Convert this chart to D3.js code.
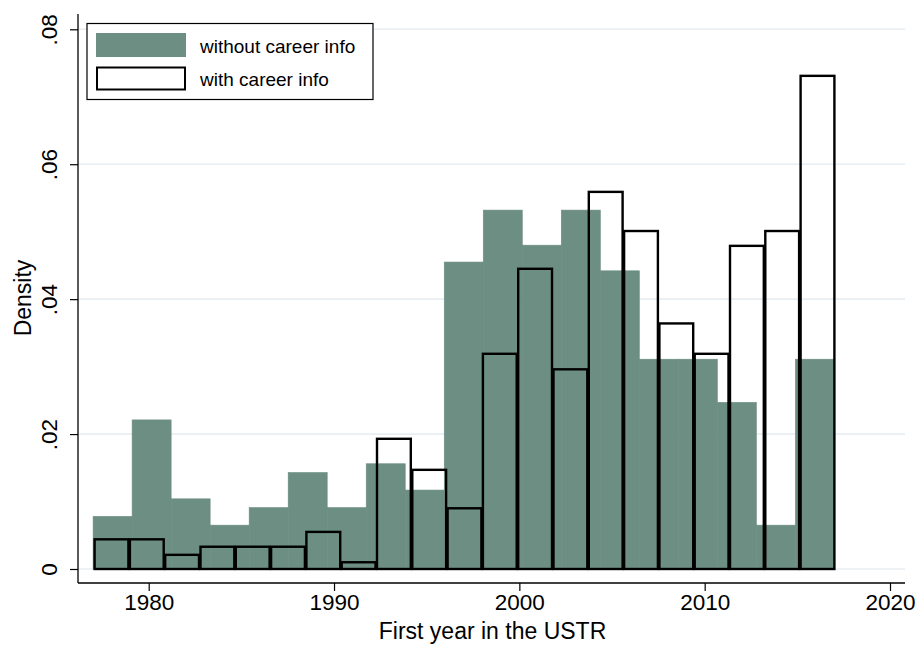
<!DOCTYPE html>
<html>
<head>
<meta charset="utf-8">
<script src="https://cdn.jsdelivr.net/npm/d3@7"></script>
<style>
  html, body { margin: 0; padding: 0; background: #ffffff; }
  svg { display: block; }
  text { font-family: "Liberation Sans", Arial, Helvetica, sans-serif; fill: #000; }
</style>
</head>
<body>
<svg id="chart" width="921" height="647"></svg>
<script>
// ---- Data ----
const binStart = 1977;
const binEnd = 2017;
// density per bin, "without career info" (19 bins, 1977-2017)
const withoutCareer = [0.0078, 0.0221, 0.0104, 0.0065, 0.0091, 0.0143, 0.0091, 0.0156, 0.0117,
  0.0455, 0.0532, 0.0480, 0.0532, 0.0442, 0.0311, 0.0311, 0.0247, 0.0065, 0.0311];
// density per bin, "with career info" (21 bins, 1977-2017)
const withCareer = [0.0044, 0.0044, 0.0021, 0.0033, 0.0033, 0.0033, 0.0055, 0.0010, 0.0193, 0.0147,
  0.0090, 0.0319, 0.0445, 0.0296, 0.0559, 0.0501, 0.0364, 0.0319, 0.0479, 0.0501, 0.0731];
const xTicks = [1980, 1990, 2000, 2010, 2020];
const yTicks = [0, 0.02, 0.04, 0.06, 0.08];
const yTickLabels = ["0", ".02", ".04", ".06", ".08"];
const seriesNames = ["without career info", "with career info"];
const xTitle = "First year in the USTR";
const yTitle = "Density";

// ---- Layout ----
const svg = d3.select("#chart");
const plotLeft = 78, plotRight = 905, plotTop = 14, axisY = 583;
const x = d3.scaleLinear().domain([1980, 2020]).range([148.7, 890]);
const y = d3.scaleLinear().domain([0, 0.08]).range([569, 29.3]);
const fillColor = "#6d8e83";
const gridColor = "#e8eef1";

// gridlines
svg.append("g").selectAll("line").data(yTicks).join("line")
  .attr("x1", plotLeft).attr("x2", plotRight)
  .attr("y1", d => y(d)).attr("y2", d => y(d))
  .attr("stroke", gridColor).attr("stroke-width", 1.6);

function bins(values) {
  const w = (binEnd - binStart) / values.length;
  return values.map((v, i) => ({ x0: binStart + i * w, x1: binStart + (i + 1) * w, v }));
}

// filled bars
svg.append("g").selectAll("rect").data(bins(withoutCareer)).join("rect")
  .attr("x", d => x(d.x0)).attr("width", d => x(d.x1) - x(d.x0))
  .attr("y", d => y(d.v)).attr("height", d => y(0) - y(d.v))
  .attr("fill", fillColor).attr("stroke", fillColor).attr("stroke-width", 0.6);

// outline bars
svg.append("g").selectAll("rect").data(bins(withCareer)).join("rect")
  .attr("x", d => x(d.x0) + 1.5).attr("width", d => x(d.x1) - x(d.x0) - 1.5)
  .attr("y", d => y(d.v)).attr("height", d => y(0) - y(d.v))
  .attr("fill", "none").attr("stroke", "#000").attr("stroke-width", 2.4);

// x axis
const xAxis = d3.axisBottom(x).tickValues(xTicks).tickFormat(d3.format("d"))
  .tickSize(8).tickPadding(3);
const gx = svg.append("g").attr("transform", `translate(0,${axisY})`).call(xAxis);
gx.select(".domain").remove();
gx.append("line").attr("x1", plotLeft).attr("x2", plotRight).attr("y1", 0).attr("y2", 0)
  .attr("stroke", "#000").attr("stroke-width", 1.3);
gx.selectAll(".tick line").attr("stroke", "#000").attr("stroke-width", 1.2);
gx.selectAll(".tick text").attr("font-size", 22.5).attr("fill", "#000")
  .attr("font-family", '"Liberation Sans", Arial, sans-serif');

// y axis
const yAxis = d3.axisLeft(y).tickValues(yTicks).tickFormat((d, i) => yTickLabels[i])
  .tickSize(8).tickPadding(0);
const gy = svg.append("g").attr("transform", `translate(${plotLeft},0)`).call(yAxis);
gy.select(".domain").remove();
gy.append("line").attr("x1", 0).attr("x2", 0).attr("y1", plotTop).attr("y2", axisY)
  .attr("stroke", "#000").attr("stroke-width", 1.3);
gy.selectAll(".tick line").attr("stroke", "#000").attr("stroke-width", 1.2);
gy.selectAll(".tick text")
  .attr("font-size", 22.5).attr("fill", "#000")
  .attr("font-family", '"Liberation Sans", Arial, sans-serif')
  .attr("x", null).attr("dy", null)
  .attr("text-anchor", "middle")
  .attr("transform", "translate(-21,0) rotate(-90)");

// axis titles
svg.append("text").attr("x", (plotLeft + plotRight) / 2 + 1).attr("y", 639)
  .attr("text-anchor", "middle").attr("font-size", 23).text(xTitle);
svg.append("text").attr("transform", "translate(31,298) rotate(-90)")
  .attr("text-anchor", "middle").attr("font-size", 23).text(yTitle);

// legend
const lg = svg.append("g");
lg.append("rect").attr("x", 87).attr("y", 23.5).attr("width", 286).attr("height", 76)
  .attr("fill", "#fff").attr("stroke", "#000").attr("stroke-width", 1.2);
lg.append("rect").attr("x", 96).attr("y", 33).attr("width", 90).attr("height", 24)
  .attr("fill", fillColor);
lg.append("rect").attr("x", 97).attr("y", 67.5).attr("width", 88).attr("height", 22)
  .attr("fill", "#fff").attr("stroke", "#000").attr("stroke-width", 2);
lg.append("text").attr("x", 200).attr("y", 53).attr("font-size", 19).text(seriesNames[0]);
lg.append("text").attr("x", 200).attr("y", 86).attr("font-size", 19).text(seriesNames[1]);
</script>
</body>
</html>
